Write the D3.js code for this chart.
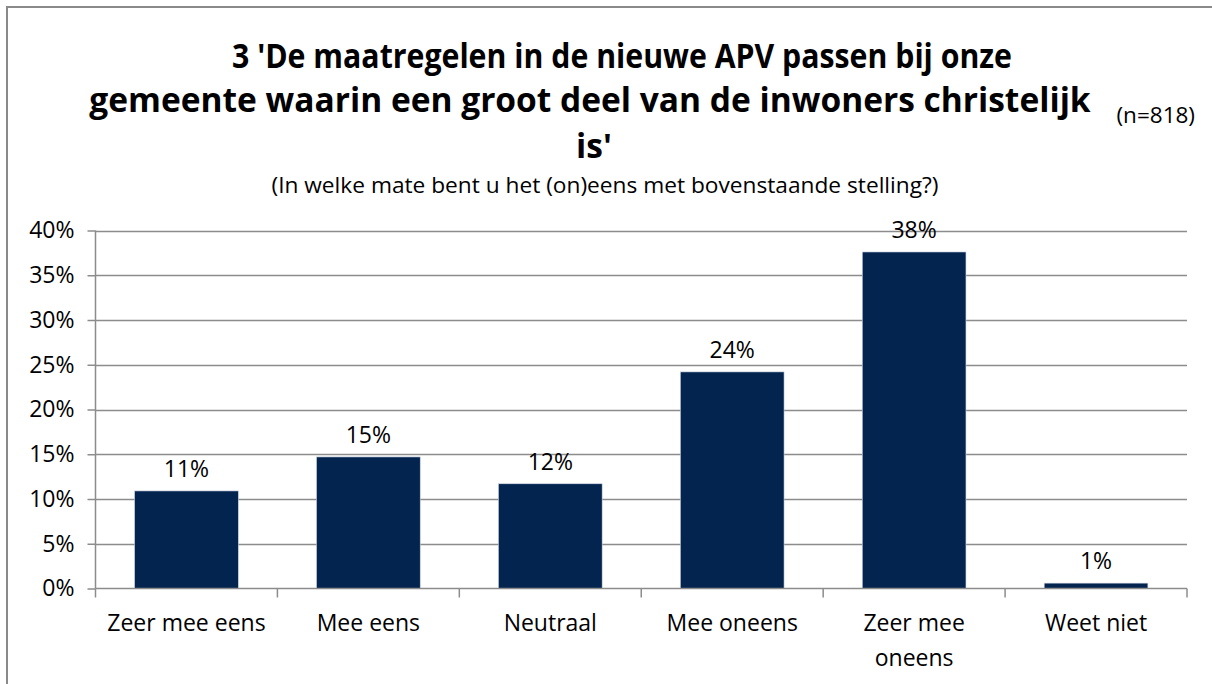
<!DOCTYPE html>
<html>
<head>
<meta charset="utf-8">
<script src="https://cdn.jsdelivr.net/npm/d3@7"></script>
<style>
  html, body { margin: 0; padding: 0; background: #fff; }
  svg { display: block; }
  text { font-family: "Open Sans", "Noto Sans", sans-serif; fill: #000; }
</style>
</head>
<body>
<script>
const categories = ["Zeer mee eens", "Mee eens", "Neutraal", "Mee oneens", "Zeer mee oneens", "Weet niet"];
const categoryLines = [["Zeer mee eens"], ["Mee eens"], ["Neutraal"], ["Mee oneens"], ["Zeer mee", "oneens"], ["Weet niet"]];
const values = [0.109, 0.147, 0.117, 0.242, 0.376, 0.006];
const valueLabels = ["11%", "15%", "12%", "24%", "38%", "1%"];
const yTicks = [0, 0.05, 0.10, 0.15, 0.20, 0.25, 0.30, 0.35, 0.40];
const titleLines = ["3 'De maatregelen in de nieuwe APV passen bij onze", "gemeente waarin een groot deel van de inwoners christelijk", "is'"];
const subtitle = "(In welke mate bent u het (on)eens met bovenstaande stelling?)";
const nLabel = "(n=818)";

const W = 1212, H = 684;
const svg = d3.select("body").append("svg").attr("width", W).attr("height", H);

// outer border
svg.append("rect").attr("x", 7).attr("y", 7).attr("width", 1220).attr("height", 700)
  .attr("fill", "none").attr("stroke", "#8a8a8a").attr("stroke-width", 2);

const plot = { left: 95.5, right: 1187, top: 230.5, bottom: 588.5 };

const x = d3.scaleBand().domain(categories).range([plot.left, plot.right]).paddingInner(0.43).paddingOuter(0.215);
const xb = d3.scaleBand().domain(categories).range([plot.left, plot.right]).padding(0);
const y = d3.scaleLinear().domain([0, 0.40]).range([plot.bottom, plot.top]);

// gridlines
svg.append("g").selectAll("line").data(yTicks.slice(1)).join("line")
  .attr("x1", plot.left).attr("x2", plot.right)
  .attr("y1", d => Math.round(y(d)) + 0.5).attr("y2", d => Math.round(y(d)) + 0.5)
  .attr("stroke", "#8c8c8c").attr("stroke-width", 1.5);

// y axis
const yAxis = d3.axisLeft(y).tickValues(yTicks).tickFormat(d3.format(".0%")).tickSize(8).tickPadding(13);
const gy = svg.append("g").attr("transform", `translate(${plot.left},0)`).call(yAxis);
gy.select(".domain").attr("stroke", "#8c8c8c").attr("stroke-width", 1.5).attr("d", `M0,${plot.top}V${plot.bottom}`);
gy.selectAll(".tick line").attr("stroke", "#8c8c8c").attr("stroke-width", 1.5);
gy.selectAll(".tick text").attr("font-size", 23).attr("fill", "#000").style("font-family", "Open Sans");

// bars
svg.append("g").selectAll("rect").data(values).join("rect")
  .attr("x", (d, i) => x(categories[i]))
  .attr("width", x.bandwidth())
  .attr("y", d => y(d))
  .attr("height", d => y(0) - y(d))
  .attr("fill", "#03244f")
  .attr("stroke", "#c9d3e0").attr("stroke-width", 0.6);

// x axis
const gx = svg.append("g").attr("transform", `translate(0,${plot.bottom})`);
gx.append("line").attr("x1", plot.left).attr("x2", plot.right).attr("y1", 0).attr("y2", 0)
  .attr("stroke", "#8c8c8c").attr("stroke-width", 1.5);
const bounds = categories.map(c => xb(c)).concat([plot.right]);
gx.selectAll("line.tk").data(bounds).join("line").attr("class", "tk")
  .attr("x1", d => d).attr("x2", d => d).attr("y1", 0).attr("y2", 9)
  .attr("stroke", "#8c8c8c").attr("stroke-width", 1.5);

// category labels
categories.forEach((c, i) => {
  const t = svg.append("text").attr("x", xb(c) + xb.bandwidth() / 2).attr("y", 631)
    .attr("text-anchor", "middle").attr("font-size", 23);
  categoryLines[i].forEach((ln, j) => {
    t.append("tspan").attr("x", xb(c) + xb.bandwidth() / 2).attr("dy", j === 0 ? 0 : 35).text(ln);
  });
});

// value labels
svg.append("g").selectAll("text").data(values).join("text")
  .attr("x", (d, i) => x(categories[i]) + x.bandwidth() / 2)
  .attr("y", d => y(d) - 14)
  .attr("text-anchor", "middle").attr("font-size", 23)
  .text((d, i) => valueLabels[i]);

// title
const titleX = [622, 590, 594];
const titleY = [68, 112, 158];
titleLines.forEach((ln, i) => {
  const t = svg.append("text").attr("text-anchor", "middle").attr("font-size", 33.5).attr("font-weight", "bold")
    .attr("x", titleX[i]).attr("y", titleY[i]).text(ln);
  if (i === 0) t.attr("textLength", 780).attr("lengthAdjust", "spacingAndGlyphs");
});
svg.append("text").attr("x", 605).attr("y", 193).attr("text-anchor", "middle").attr("font-size", 22.7).text(subtitle);
svg.append("text").attr("x", 1195).attr("y", 123).attr("text-anchor", "end").attr("font-size", 22.5).text(nLabel);
</script>
</body>
</html>
